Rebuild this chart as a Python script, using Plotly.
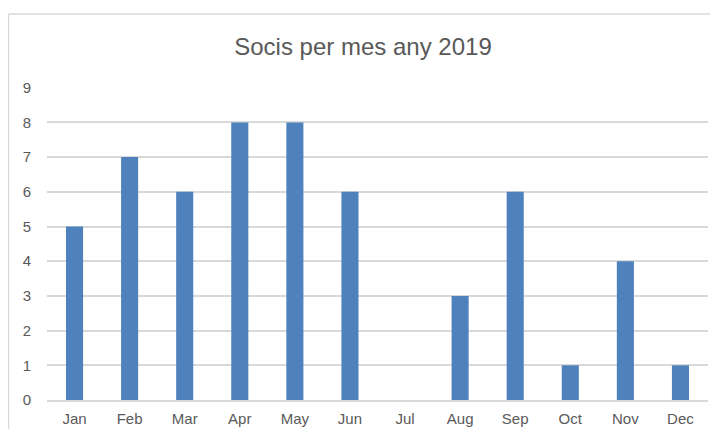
import plotly.graph_objs as go

months = ['Jan', 'Feb', 'Mar', 'Apr', 'May', 'Jun', 'Jul', 'Aug', 'Sep', 'Oct', 'Nov', 'Dec']
members = [5, 7, 6, 8, 8, 6, 0, 3, 6, 1, 4, 1]
y_ticks = [0, 1, 2, 3, 4, 5, 6, 7, 8, 9]

# page body adds an 8px offset, so the figure is drawn 8px smaller
W, H = 710, 421
ml, mr, mt, mb = 39, 10, 79, 29
pw, ph = W - ml - mr, H - mt - mb

fig = go.Figure()
fig.add_trace(go.Bar(x=months, y=members, marker={'color': '#4f81bd', 'line': {'width': 0}},
                     width=0.31, name=""))

# chart-area border (Excel style frame)
fig.add_shape(type="line", xref="paper", yref="paper",
              x0=(0.5 - ml) / pw, x1=(W - ml) / pw, y0=1 + (mt - 6) / ph, y1=1 + (mt - 6) / ph,
              line={'color': '#d9d9d9', 'width': 1.5})
fig.add_shape(type="line", xref="paper", yref="paper",
              x0=(0.5 - ml) / pw, x1=(0.5 - ml) / pw, y0=1 + (mt - 6) / ph, y1=-mb / ph,
              line={'color': '#d9d9d9', 'width': 1.5})

fig.update_layout(
    width=W, height=H,
    margin={'l': ml, 'r': mr, 't': mt, 'b': mb, 'autoexpand': False},
    paper_bgcolor='white', plot_bgcolor='white',
    font={'family': 'Liberation Sans, Arial, sans-serif', 'color': '#595959', 'size': 15},
    title={'text': 'Socis per mes any 2019', 'x': 0.5, 'xanchor': 'center',
           'y': 1 - 39 / H, 'yanchor': 'middle', 'font': {'size': 24, 'color': '#595959'}},
    showlegend=False,
    bargap=0.69,
    xaxis={'showgrid': False, 'showline': True, 'linecolor': '#d9d9d9', 'linewidth': 1.5,
           'ticks': '', 'ticklabelstandoff': 4, 'automargin': False, 'fixedrange': True},
    yaxis={'range': [0, 9.02], 'tickvals': y_ticks, 'showgrid': True, 'gridcolor': '#d9d9d9',
           'gridwidth': 1.5, 'zeroline': False, 'showline': False, 'ticks': '',
           'ticklabelstandoff': 15, 'automargin': False},
)

fig.write_html("out.html")
